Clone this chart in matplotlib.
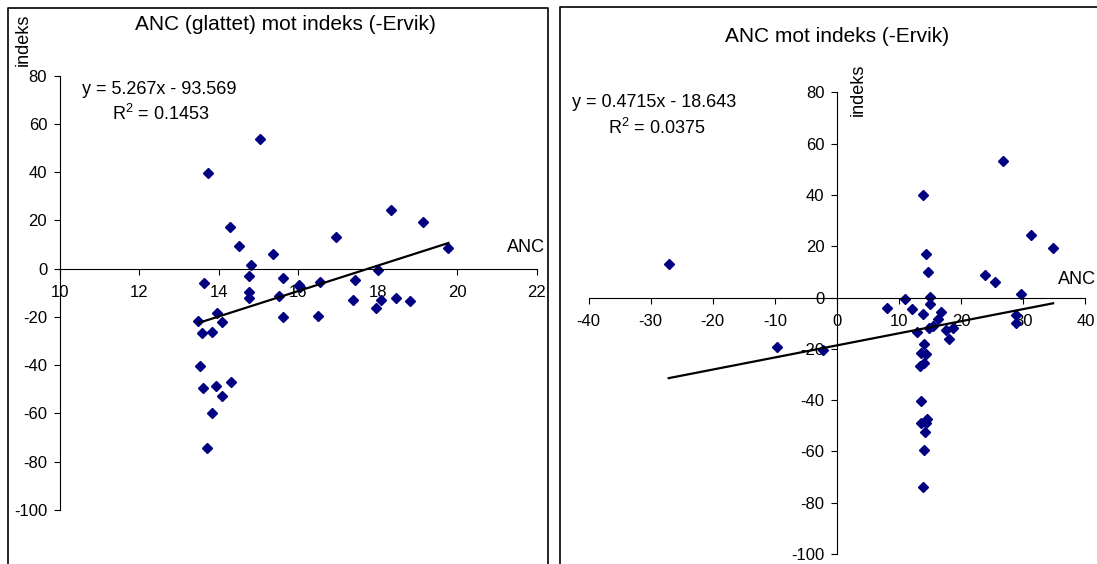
import numpy as np
import matplotlib
matplotlib.use("Agg")
import matplotlib.pyplot as plt
from matplotlib.lines import Line2D

plt.rcParams['font.family'] = ['Liberation Sans', 'DejaVu Sans']
plt.rcParams['axes.unicode_minus'] = False
plt.rcParams['mathtext.default'] = 'regular'

# venstre: ANC (glattet) mot indeks
anc_glattet = [15.05, 13.73, 14.29, 14.52, 14.81, 14.76, 14.76, 14.76, 15.36, 13.62,
               13.49, 13.95, 14.09, 13.57, 13.84, 13.53, 13.60, 13.94, 14.32, 14.08,
               13.84, 13.70, 15.63, 15.52, 15.63, 16.01, 16.05, 16.55, 16.50, 16.95,
               17.37, 17.44, 18.02, 17.95, 18.09, 18.47, 18.81, 18.33, 19.13, 19.78]
indeks_glattet = [53.5, 39.6, 17.1, 9.2, 1.3, -3.0, -9.8, -12.2, 6.0, -6.1,
                  -21.6, -18.2, -22.1, -26.7, -26.1, -40.5, -49.3, -48.7, -47.1, -52.6,
                  -59.8, -74.2, -3.9, -11.3, -20.0, -6.6, -7.6, -5.5, -19.5, 13.1,
                  -12.8, -4.6, -0.6, -16.4, -12.8, -12.2, -13.4, 24.1, 19.2, 8.6]

# hoyre: ANC mot indeks
anc = [26.8, 13.8, -27.1, 31.2, 34.8, 14.4, 14.7, 23.9, 25.5, 29.7,
       14.9, 11.0, 14.9, 8.1, 12.1, 13.8, 16.7, 16.2, 28.8, 28.9,
       15.5, 14.8, 12.9, 17.5, 18.0, 18.7, 14.0, 13.6, 14.3, 13.4,
       14.0, -9.7, -2.3, 13.6, 13.6, 14.5, 14.1, 14.0, 13.8, 14.3]
indeks = [53.4, 40.0, 12.9, 24.3, 19.2, 17.1, 9.8, 8.7, 6.2, 1.5,
          0.4, -0.6, -2.7, -4.2, -4.6, -6.3, -5.8, -8.4, -6.7, -10.0,
          -11.2, -12.0, -13.5, -12.8, -16.0, -11.9, -18.2, -21.5, -22.0, -26.6,
          -25.5, -19.4, -20.3, -40.5, -48.8, -47.4, -52.6, -59.3, -73.9, -49.0]

# trendlinjer (fra Excel)
fit_left = (5.267, -93.569)
fit_right = (0.4715, -18.643)

W, H = 1097, 564
fig = plt.figure(figsize=(W / 100, H / 100), dpi=100)


def box(x0, ytop, x1, ybot):
    return [x0 / W, 1 - ybot / H, (x1 - x0) / W, (ybot - ytop) / H]


def txt(x, y, s, **kw):
    fig.text(x / W, 1 - y / H, s, **kw)


def style(ax, xspine_at=None):
    for s in ['top', 'right']:
        ax.spines[s].set_visible(False)
    ax.spines['bottom'].set_position(('data', 0))
    if xspine_at is not None:
        ax.spines['left'].set_position(('data', xspine_at))
    for s in ['left', 'bottom']:
        ax.spines[s].set_linewidth(0.8)
    ax.tick_params(axis='both', direction='out', length=4, width=0.8, labelsize=12)
    ax.tick_params(axis='y', pad=5)
    ax.tick_params(axis='x', pad=8)
    ax.set_facecolor('none')


# ---- venstre
ax1 = fig.add_axes(box(59.7, 75.5, 536.7, 510))
ax1.plot(anc_glattet, indeks_glattet, 'D', color='#000080', ms=4.8, clip_on=False)
xl = np.array([min(anc_glattet), max(anc_glattet)])
ax1.plot(xl, fit_left[0] * xl + fit_left[1], color='black', lw=1.6)
ax1.set_xlim(10, 22)
ax1.set_ylim(-100, 80)
ax1.set_xticks(range(10, 23, 2))
ax1.set_yticks(range(-100, 81, 20))
style(ax1)

# ---- hoyre
ax2 = fig.add_axes(box(588.6, 92.4, 1085.4, 554))
ax2.plot(anc, indeks, 'D', color='#000080', ms=4.8, clip_on=False)
xr = np.array([min(anc), max(anc)])
ax2.plot(xr, fit_right[0] * xr + fit_right[1], color='black', lw=1.6)
ax2.set_xlim(-40, 40)
ax2.set_ylim(-100, 80)
ax2.set_xticks(range(-40, 41, 10))
ax2.set_yticks(range(-100, 81, 20))
style(ax2, xspine_at=0)

# tekster
txt(285, 25, 'ANC (glattet) mot indeks (-Ervik)', fontsize=15, ha='center', va='center')
txt(837, 36, 'ANC mot indeks (-Ervik)', fontsize=15, ha='center', va='center')
txt(23, 40, 'indeks', fontsize=13, rotation=90, ha='center', va='center')
txt(858, 90, 'indeks', fontsize=13, rotation=90, ha='center', va='center')
txt(545, 248, 'ANC', fontsize=13, ha='right', va='center')
txt(1096, 279, 'ANC', fontsize=13, ha='right', va='center')
txt(82, 89, 'y = %.3fx - %.3f' % (fit_left[0], -fit_left[1]), fontsize=13, ha='left', va='center')
txt(112, 114, 'R$^2$ = 0.1453', fontsize=13, ha='left', va='center')
txt(572, 102.5, 'y = %.4fx - %.3f' % (fit_right[0], -fit_right[1]), fontsize=13, ha='left', va='center')
txt(608, 127.5, 'R$^2$ = 0.0375', fontsize=13, ha='left', va='center')

# rammer rundt diagrammene
def frame(pts):
    xs = [p[0] / W for p in pts]
    ys = [1 - p[1] / H for p in pts]
    fig.add_artist(Line2D(xs, ys, color='black', lw=1.2))


frame([(8, 570), (8, 8), (548, 8), (548, 570)])
frame([(560, 570), (560, 7), (1100, 7)])

fig.savefig('out.png', dpi=100)
